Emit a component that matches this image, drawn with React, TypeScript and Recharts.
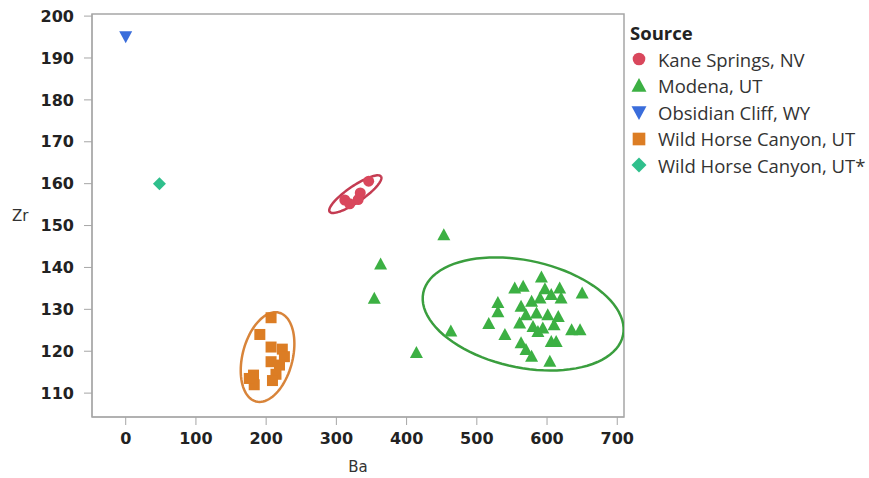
import { ScatterChart, Scatter, XAxis, YAxis, ReferenceArea } from "recharts";

// Ba / Zr readings per source
const kaneSprings = [
  { ba: 346, zr: 160.6 }, { ba: 334, zr: 157.8 }, { ba: 331, zr: 156.2 },
  { ba: 312, zr: 156.1 }, { ba: 319, zr: 155.2 },
];

const modena = [
  { ba: 453, zr: 147.7 }, { ba: 363, zr: 140.7 }, { ba: 354, zr: 132.5 }, { ba: 414, zr: 119.6 },
  { ba: 463, zr: 124.7 }, { ba: 517, zr: 126.5 }, { ba: 530, zr: 131.5 }, { ba: 530, zr: 129.3 },
  { ba: 540, zr: 123.9 }, { ba: 554, zr: 135 }, { ba: 566, zr: 135.4 }, { ba: 592, zr: 137.6 },
  { ba: 597, zr: 134.8 }, { ba: 606, zr: 133.4 }, { ba: 618, zr: 135 }, { ba: 620, zr: 132.6 },
  { ba: 616, zr: 128.2 }, { ba: 613, zr: 122.2 }, { ba: 650, zr: 133.8 }, { ba: 635, zr: 125 },
  { ba: 647, zr: 125 }, { ba: 563, zr: 130.6 }, { ba: 578, zr: 131.8 }, { ba: 590, zr: 132.6 },
  { ba: 570, zr: 128.6 }, { ba: 585, zr: 129 }, { ba: 601, zr: 128.6 }, { ba: 561, zr: 126.6 },
  { ba: 580, zr: 125.8 }, { ba: 594, zr: 125.4 }, { ba: 610, zr: 126.2 }, { ba: 563, zr: 121.9 },
  { ba: 570, zr: 120.3 }, { ba: 578, zr: 118.7 }, { ba: 606, zr: 122.2 }, { ba: 604, zr: 117.5 },
  { ba: 587, zr: 124.6 },
];

const obsidianCliff = [{ ba: 0, zr: 195.2 }];

const wildHorse = [
  { ba: 207, zr: 128 }, { ba: 191, zr: 124 }, { ba: 207, zr: 121 }, { ba: 223, zr: 120.5 },
  { ba: 226, zr: 118.7 }, { ba: 207, zr: 117.5 }, { ba: 219, zr: 116.7 }, { ba: 214, zr: 114.5 },
  { ba: 182, zr: 114.3 }, { ba: 183, zr: 112 }, { ba: 209, zr: 113 }, { ba: 176, zr: 113.5 },
];

const wildHorseStar = [{ ba: 48, zr: 160 }];

// density ellipses: centre, first half-axis, second half-axis (data units)
const kaneEllipse = { c: [327, 157.5], u: [36.6, 4.2], v: [6.4, -1.6] };
const modenaEllipse = { c: [566, 128.9], u: [142.2, -5.1], v: [-15.8, -12.5] };
const wildHorseEllipse = { c: [202, 118.6], u: [16.4, 10.6], v: [34.5, -1.5] };

const xTicks = [0, 100, 200, 300, 400, 500, 600, 700];
const yTicks = [110, 120, 130, 140, 150, 160, 170, 180, 190, 200];

const RED = "#d9475c";
const GREEN = "#3cb043";
const BLUE = "#3a6ddb";
const ORANGE = "#dc7d24";
const TEAL = "#2fbf8c";

const legendItems = [
  { name: "Kane Springs, NV", color: RED, kind: "circle" },
  { name: "Modena, UT", color: GREEN, kind: "triangle" },
  { name: "Obsidian Cliff, WY", color: BLUE, kind: "down" },
  { name: "Wild Horse Canyon, UT", color: ORANGE, kind: "square" },
  { name: "Wild Horse Canyon, UT*", color: TEAL, kind: "diamond" },
];

function outline(e: { c: number[]; u: number[]; v: number[] }) {
  const pts = [];
  for (let i = 0; i <= 90; i++) {
    const t = (i / 90) * Math.PI * 2;
    pts.push({
      ba: e.c[0] + e.u[0] * Math.cos(t) + e.v[0] * Math.sin(t),
      zr: e.c[1] + e.u[1] * Math.cos(t) + e.v[1] * Math.sin(t),
    });
  }
  return pts;
}

function Marker({ cx, cy, kind, color, s = 1 }: any) {
  if (cx == null || cy == null) return null;
  if (kind === "circle") return <circle cx={cx} cy={cy} r={5.5 * s} fill={color} />;
  if (kind === "triangle")
    return <polygon points={`${cx},${cy - 7 * s} ${cx + 6.5 * s},${cy + 5 * s} ${cx - 6.5 * s},${cy + 5 * s}`} fill={color} />;
  if (kind === "down")
    return <polygon points={`${cx - 6.5 * s},${cy - 5 * s} ${cx + 6.5 * s},${cy - 5 * s} ${cx},${cy + 7 * s}`} fill={color} />;
  if (kind === "square") return <rect x={cx - 5.5 * s} y={cy - 5.5 * s} width={11 * s} height={11 * s} fill={color} />;
  return <polygon points={`${cx},${cy - 6.5 * s} ${cx + 6.5 * s},${cy} ${cx},${cy + 6.5 * s} ${cx - 6.5 * s},${cy}`} fill={color} />;
}

const shapeFor = (kind: string, color: string) => (p: any) => <Marker cx={p.cx} cy={p.cy} kind={kind} color={color} />;

function LegendBox() {
  return (
    <div style={{ position: "absolute", left: 630, top: 19, fontFamily: "'Open Sans', sans-serif", color: "#333", whiteSpace: "nowrap" }}>
      <div style={{ fontWeight: "bold", fontSize: 18.5, height: 27, lineHeight: "27px", color: "#222" }}>Source</div>
      {legendItems.map((it) => (
        <div key={it.name} style={{ display: "flex", alignItems: "center", height: 26.5, fontSize: 18.5 }}>
          <svg width={18} height={18} style={{ marginRight: 10 }}>
            <Marker cx={9} cy={9} kind={it.kind} color={it.color} s={1.15} />
          </svg>
          {it.name}
        </div>
      ))}
    </div>
  );
}

const tickStyle = { fill: "#222", fontSize: 16, fontWeight: "bold", fontFamily: "'DejaVu Sans', sans-serif" };

export default function App() {
  return (
    <div style={{ position: "absolute", left: 0, top: 0, width: 869, height: 478, background: "#fff" }}>
      <ScatterChart width={869} height={478} margin={{ top: 14, right: 245, left: 0, bottom: 0 }}>
        <XAxis type="number" dataKey="ba" domain={[-48, 709.6]} ticks={xTicks} allowDataOverflow
          height={61} tickSize={8} tickMargin={8} tick={tickStyle}
          axisLine={{ stroke: "#a6a6a6" }} tickLine={{ stroke: "#a6a6a6" }}
          label={{ value: "Ba", position: "insideBottom", offset: 6, fill: "#333", fontSize: 15, fontFamily: "'DejaVu Sans', sans-serif" }} />
        <YAxis type="number" dataKey="zr" domain={[104.3, 200.5]} ticks={yTicks} allowDataOverflow
          width={92} tickSize={8} tickMargin={10} tick={tickStyle}
          axisLine={{ stroke: "#a6a6a6" }} tickLine={{ stroke: "#a6a6a6" }}
          label={{ value: "Zr", position: "insideLeft", offset: 12, fill: "#333", fontSize: 15, fontFamily: "'DejaVu Sans', sans-serif" }} />
        <ReferenceArea x1={-48} x2={709.6} y1={104.3} y2={200.5} fill="none" stroke="#a6a6a6" strokeWidth={1.5} ifOverflow="visible" />
        <Scatter data={outline(kaneEllipse)} line={{ stroke: "#c43c52", strokeWidth: 2.5 }} lineType="joint" shape={() => null} isAnimationActive={false} legendType="none" />
        <Scatter data={outline(modenaEllipse)} line={{ stroke: "#3a9e3e", strokeWidth: 2.5 }} lineType="joint" shape={() => null} isAnimationActive={false} legendType="none" />
        <Scatter data={outline(wildHorseEllipse)} line={{ stroke: "#d8843a", strokeWidth: 2.5 }} lineType="joint" shape={() => null} isAnimationActive={false} legendType="none" />
        <Scatter name="Kane Springs, NV" data={kaneSprings} shape={shapeFor("circle", RED)} isAnimationActive={false} />
        <Scatter name="Modena, UT" data={modena} shape={shapeFor("triangle", GREEN)} isAnimationActive={false} />
        <Scatter name="Obsidian Cliff, WY" data={obsidianCliff} shape={shapeFor("down", BLUE)} isAnimationActive={false} />
        <Scatter name="Wild Horse Canyon, UT" data={wildHorse} shape={shapeFor("square", ORANGE)} isAnimationActive={false} />
        <Scatter name="Wild Horse Canyon, UT*" data={wildHorseStar} shape={shapeFor("diamond", TEAL)} isAnimationActive={false} />
      </ScatterChart>
      <LegendBox />
    </div>
  );
}
